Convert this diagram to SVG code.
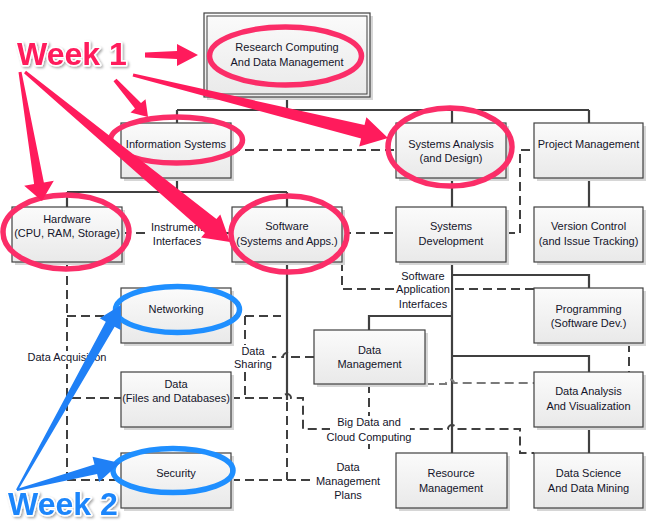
<svg xmlns="http://www.w3.org/2000/svg" width="658" height="521" viewBox="0 0 658 521">
  <defs>
    <linearGradient id="boxFill" x1="0" y1="0" x2="0" y2="1">
      <stop offset="0" stop-color="#fbfbfb"/>
      <stop offset="1" stop-color="#e9e9e9"/>
    </linearGradient>
    <filter id="soft" x="-10%" y="-20%" width="130%" height="150%">
      <feDropShadow dx="1.5" dy="1.5" stdDeviation="1.2" flood-color="#000" flood-opacity="0.35"/>
    </filter>
    <style>
      .box { fill: url(#boxFill); stroke: #404040; stroke-width: 1.2; }
      .shadow { fill: #d6d6d6; }
      .t { font-family: "Liberation Sans", Arial, sans-serif; font-size: 11px; fill: #14142a; text-anchor: middle; }
      .solid { fill: none; stroke: #404040; stroke-width: 2.2; }
      .dash { fill: none; stroke: #404040; stroke-width: 2; stroke-dasharray: 9 5; }
      .dashLight { fill: none; stroke: #7a7a7a; stroke-width: 2; stroke-dasharray: 9 5; }
      .lblbg { fill: #ffffff; }
      .ringPink { fill: none; stroke: #fb2d68; stroke-width: 5.5; }
      .ringBlue { fill: none; stroke: #1f8fff; stroke-width: 5.5; }
      .arrowPink { fill: #ff1b5c; }
      .arrowBlue { fill: #1f80f6; }
      .week { font-family: "Liberation Sans", Arial, sans-serif; font-weight: bold; font-size: 32px; stroke: #ffffff; stroke-width: 3; paint-order: stroke; stroke-linejoin: round; }
    </style>
  </defs>

  <rect width="658" height="521" fill="#ffffff"/>

  <!-- connectors -->
  <g id="connectors">
    <!-- solid hierarchy -->
    <path class="solid" d="M287,97 V110 M177,110 H589 M177,110 V123 M452,110 V123 M589,110 V123"/>
    <path class="solid" d="M177,178 V192 M67,192 H287 M67,192 V207 M287,192 V207"/>
    <path class="solid" d="M452,178 V207 M589,178 V207"/>
    <path class="solid" d="M452,262 V453 M452,275 H589 V288 M452,316 H369 V330 M452,356 H589 V372"/>
    <path class="solid" d="M589,427 V453"/>
    <path class="solid" d="M287,262 V400"/>

    <!-- dashed relations -->
    <path class="dash" d="M231,150 H396"/>
    <path class="dash" d="M122,233 H232"/>
    <path class="dash" d="M342,233 H396"/>
    <path class="dash" d="M506,233 H520 V150 H534"/>
    <path class="dash" d="M342,262 V289 H534"/>
    <path class="dash" d="M67,262 V480 M67,316 H121 M72,398 H121 M67,480 H121"/>
    <path class="dash" d="M231,316 H281"/>
    <path class="dash" d="M245,316 V398"/>
    <path class="dash" d="M231,398 H283 A4,4 0 0 1 291,398 H303 V429 H448 A4,4 0 0 1 456,429 H520 V453 H534"/>
    <path class="dash" d="M314,357 H291 A4,4 0 0 0 283,357 H272"/>
    <path class="dashLight" d="M425,384 H446 A4,4 0 0 1 454,383 H534"/>
    <path class="dash" d="M369,384 V453"/>
    <path class="dash" d="M629,343 V372"/>
    <path class="dash" d="M287,402 V480 M231,480 H315"/>
  </g>

  <!-- nodes -->
  <g id="research-computing">
    <rect class="shadow" x="207" y="16" width="166" height="84"/>
    <rect class="box" x="204" y="13" width="166" height="84"/>
    <rect x="207" y="16" width="160" height="78" fill="none" stroke="#404040" stroke-width="1"/>
    <text class="t" x="287" y="51">Research Computing</text>
    <text class="t" x="287" y="66">And Data Management</text>
  </g>
  <g id="information-systems">
    <rect class="shadow" x="124" y="126" width="110" height="55"/>
    <rect class="box" x="121" y="123" width="110" height="55"/>
    <text class="t" x="176" y="148">Information Systems</text>
  </g>
  <g id="systems-analysis">
    <rect class="shadow" x="399" y="126" width="110" height="55"/>
    <rect class="box" x="396" y="123" width="110" height="55"/>
    <text class="t" x="451" y="148">Systems Analysis</text>
    <text class="t" x="451" y="162">(and Design)</text>
  </g>
  <g id="project-management">
    <rect class="shadow" x="537" y="126" width="109" height="55"/>
    <rect class="box" x="534" y="123" width="109" height="55"/>
    <text class="t" x="588.5" y="148">Project Management</text>
  </g>
  <g id="hardware">
    <rect class="shadow" x="15" y="210" width="110" height="55"/>
    <rect class="box" x="12" y="207" width="110" height="55"/>
    <text class="t" x="67" y="223">Hardware</text>
    <text class="t" x="67" y="237">(CPU, RAM, Storage)</text>
  </g>
  <g id="software">
    <rect class="shadow" x="235" y="210" width="110" height="55"/>
    <rect class="box" x="232" y="207" width="110" height="55"/>
    <text class="t" x="287" y="230">Software</text>
    <text class="t" x="287" y="245">(Systems and Apps.)</text>
  </g>
  <g id="systems-development">
    <rect class="shadow" x="399" y="210" width="110" height="55"/>
    <rect class="box" x="396" y="207" width="110" height="55"/>
    <text class="t" x="451" y="230">Systems</text>
    <text class="t" x="451" y="245">Development</text>
  </g>
  <g id="version-control">
    <rect class="shadow" x="537" y="210" width="109" height="55"/>
    <rect class="box" x="534" y="207" width="109" height="55"/>
    <text class="t" x="588.5" y="230">Version Control</text>
    <text class="t" x="588.5" y="245">(and Issue Tracking)</text>
  </g>
  <g id="networking">
    <rect class="shadow" x="124" y="291" width="110" height="55"/>
    <rect class="box" x="121" y="288" width="110" height="55"/>
    <text class="t" x="176" y="313">Networking</text>
  </g>
  <g id="programming">
    <rect class="shadow" x="537" y="291" width="109" height="55"/>
    <rect class="box" x="534" y="288" width="109" height="55"/>
    <text class="t" x="588.5" y="313">Programming</text>
    <text class="t" x="588.5" y="327">(Software Dev.)</text>
  </g>
  <g id="data-management">
    <rect class="shadow" x="317" y="333" width="111" height="54"/>
    <rect class="box" x="314" y="330" width="111" height="54"/>
    <text class="t" x="369.5" y="354">Data</text>
    <text class="t" x="369.5" y="368">Management</text>
  </g>
  <g id="data-files">
    <rect class="shadow" x="124" y="375" width="110" height="55"/>
    <rect class="box" x="121" y="372" width="110" height="55"/>
    <text class="t" x="176" y="388">Data</text>
    <text class="t" x="176" y="402">(Files and Databases)</text>
  </g>
  <g id="data-analysis">
    <rect class="shadow" x="537" y="375" width="109" height="55"/>
    <rect class="box" x="534" y="372" width="109" height="55"/>
    <text class="t" x="588.5" y="395">Data Analysis</text>
    <text class="t" x="588.5" y="410">And Visualization</text>
  </g>
  <g id="security">
    <rect class="shadow" x="124" y="456" width="110" height="55"/>
    <rect class="box" x="121" y="453" width="110" height="55"/>
    <text class="t" x="176" y="477">Security</text>
  </g>
  <g id="resource-management">
    <rect class="shadow" x="399" y="456" width="111" height="55"/>
    <rect class="box" x="396" y="453" width="111" height="55"/>
    <text class="t" x="451" y="477">Resource</text>
    <text class="t" x="451" y="492">Management</text>
  </g>
  <g id="data-science">
    <rect class="shadow" x="537" y="456" width="109" height="55"/>
    <rect class="box" x="534" y="453" width="109" height="55"/>
    <text class="t" x="588.5" y="477">Data Science</text>
    <text class="t" x="588.5" y="492">And Data Mining</text>
  </g>

  <!-- connector labels -->
  <g id="labels">
    <rect class="lblbg" x="148" y="221" width="58" height="27"/>
    <text class="t" x="177" y="231">Instrument</text>
    <text class="t" x="177" y="245">Interfaces</text>

    <rect class="lblbg" x="394" y="270" width="57" height="41"/>
    <text class="t" x="423" y="280">Software</text>
    <text class="t" x="423" y="293">Application</text>
    <text class="t" x="423" y="308">Interfaces</text>

    <rect class="lblbg" x="27" y="351" width="80" height="13"/>
    <text class="t" x="67" y="361">Data Acquisition</text>

    <rect class="lblbg" x="234" y="345" width="38" height="26"/>
    <text class="t" x="253" y="355">Data</text>
    <text class="t" x="253" y="368">Sharing</text>

    <rect class="lblbg" x="330" y="416" width="80" height="28"/>
    <text class="t" x="369" y="426">Big Data and</text>
    <text class="t" x="369" y="441">Cloud Computing</text>

    <rect class="lblbg" x="316" y="461" width="64" height="41"/>
    <text class="t" x="348" y="471">Data</text>
    <text class="t" x="348" y="485">Management</text>
    <text class="t" x="348" y="499">Plans</text>
  </g>

  <!-- week 1 annotations -->
  <g id="week1">
    <ellipse class="ringPink" cx="285.5" cy="56" rx="76" ry="29"/>
    <ellipse class="ringPink" cx="176.5" cy="140" rx="66" ry="23"/>
    <ellipse class="ringPink" cx="450" cy="147" rx="62" ry="39"/>
    <ellipse class="ringPink" cx="66" cy="232" rx="63" ry="37"/>
    <ellipse class="ringPink" cx="289" cy="234" rx="58" ry="38"/>
    <polygon class="arrowPink" points="145,52.5 177,51 177,44 198,55 177,66 177,59 145,57.5"/>
    <polygon class="arrowPink" points="113.5,81.3 135.0,108.5 130.5,112.5 148,117 145.5,99.2 141.0,103.1 116.5,78.7"/>
    <polygon class="arrowPink" points="132.6,76.5 361.1,138.6 359.2,146.4 388,138 366.4,117.2 364.5,125.0 133.4,73.5"/>
    <polygon class="arrowPink" points="18.5,72.3 34.1,184.1 24.2,185.8 42,201 53.8,180.8 43.9,182.5 21.5,71.7"/>
    <polygon class="arrowPink" points="24.0,73.2 205.0,232.9 201.1,237.6 230,242 220.3,214.5 216.4,219.1 26.0,70.8"/>
    <text class="week" x="17" y="65" fill="#ff1b5c" filter="url(#soft)">Week 1</text>
  </g>

  <!-- week 2 annotations -->
  <g id="week2">
    <ellipse class="ringBlue" cx="177.5" cy="309.5" rx="62" ry="23"/>
    <ellipse class="ringBlue" cx="173" cy="470.5" rx="60" ry="22"/>
    <polygon class="arrowBlue" points="16.1,489.5 105.8,321.7 99.7,318.3 121,305 120.7,330.1 114.6,326.7 17.9,490.5"/>
    <polygon class="arrowBlue" points="16.7,489.0 94.5,464.5 92.5,456.7 120,463 99.1,481.9 97.1,474.1 17.3,491.0"/>
    <text class="week" x="8" y="515" fill="#1f86fb" filter="url(#soft)">Week 2</text>
  </g>
</svg>
